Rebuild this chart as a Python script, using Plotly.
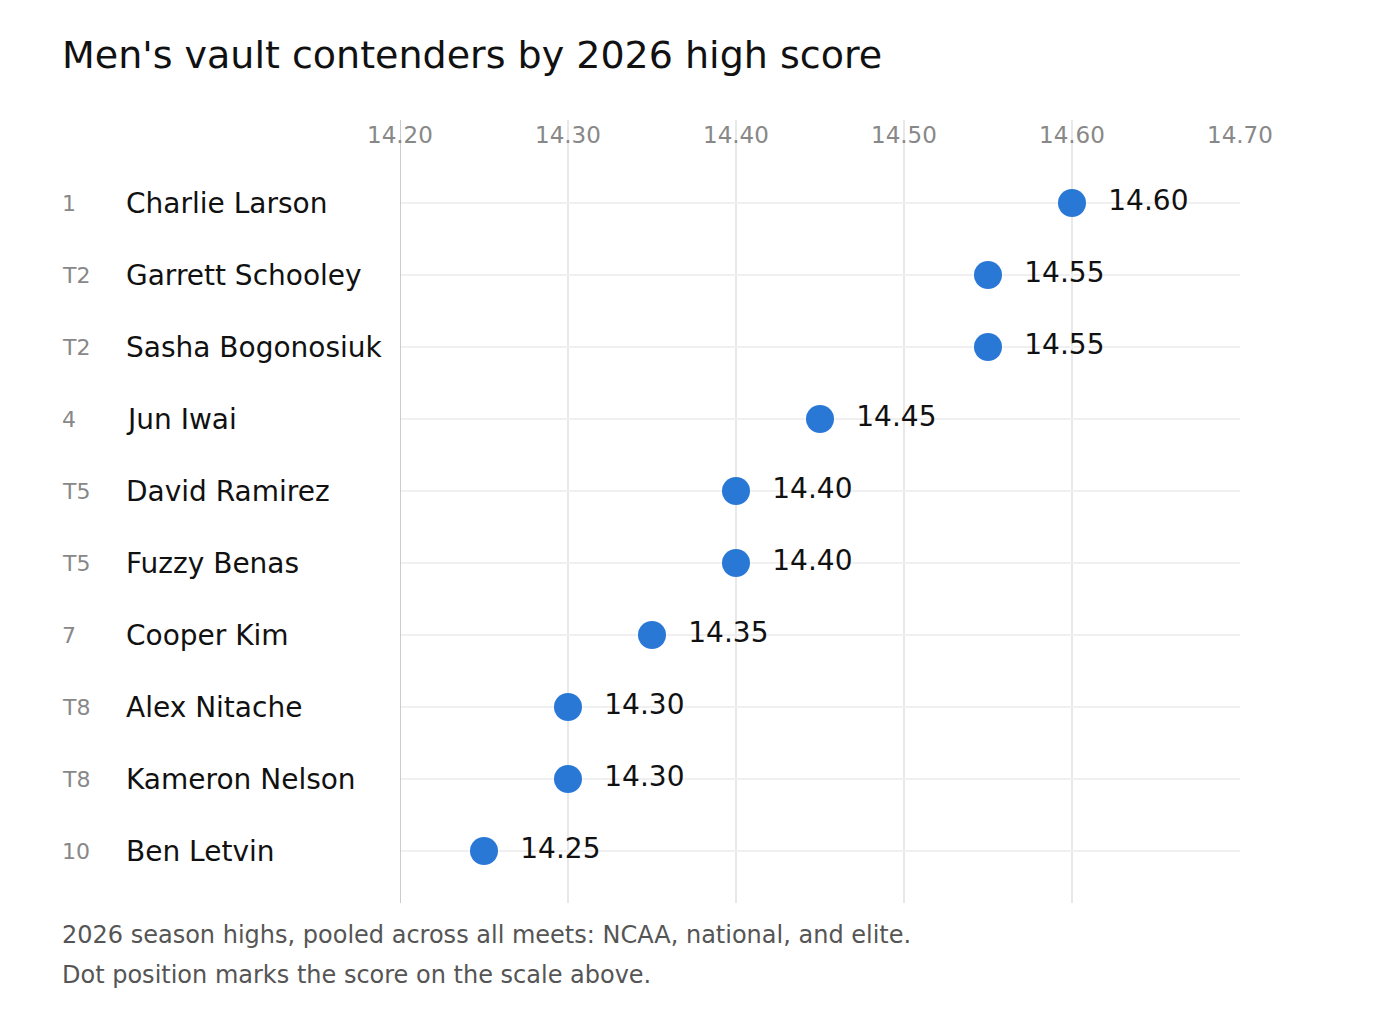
import plotly.graph_objects as go

ranks = ["1", "T2", "T2", "4", "T5", "T5", "7", "T8", "T8", "10"]
names = ["Charlie Larson", "Garrett Schooley", "Sasha Bogonosiuk", "Jun Iwai",
         "David Ramirez", "Fuzzy Benas", "Cooper Kim", "Alex Nitache",
         "Kameron Nelson", "Ben Letvin"]
scores = [14.60, 14.55, 14.55, 14.45, 14.40, 14.40, 14.35, 14.30, 14.30, 14.25]
ticks = [14.20, 14.30, 14.40, 14.50, 14.60, 14.70]

rows = list(range(len(names)))
font = "DejaVu Sans"

fig = go.Figure()
fig.add_trace(go.Scatter(
    x=scores, y=rows, mode="markers+text",
    marker=dict(size=28, color="#2a78d6"),
    text=[f"  {s:.2f}" for s in scores], textposition="middle right",
    textfont=dict(size=28, color="#111", family=font),
    cliponaxis=False, hoverinfo="skip"))

# page is drawn with an 8px offset, so shift everything back
L, R, T, B = 392, 168, 112, 125
W = 1400 - L - R
H = 1020 - T - B
ann = []
for t in ticks:
    ann.append(dict(x=t, y=-0.944, xref="x", yref="y", text=f"{t:.2f}", showarrow=False,
                    font=dict(size=23, color="#888", family=font)))
for i, (rk, nm) in enumerate(zip(ranks, names)):
    ann.append(dict(x=(52 - L) / W, y=i, xref="paper", yref="y", text=rk, xanchor="left",
                    showarrow=False, font=dict(size=22, color="#888", family=font)))
    ann.append(dict(x=(116 - L) / W, y=i, xref="paper", yref="y", text=nm, xanchor="left",
                    showarrow=False, font=dict(size=28, color="#111", family=font)))
ann.append(dict(x=(52 - L) / W, y=1 + (T - 47) / H, xref="paper", yref="paper",
                text="Men's vault contenders by 2026 high score", xanchor="left", yanchor="middle",
                showarrow=False, font=dict(size=38, color="#111", family=font)))
for txt, py in [("2026 season highs, pooled across all meets: NCAA, national, and elite.", 927),
                ("Dot position marks the score on the scale above.", 967)]:
    ann.append(dict(x=(52 - L) / W, y=-(py - (1020 - B)) / H, xref="paper",
                    yref="paper", text=txt, xanchor="left", yanchor="middle", showarrow=False,
                    font=dict(size=24, color="#555", family=font)))

shapes = [dict(type="line", xref="x", yref="paper", x0=14.20, x1=14.20, y0=0, y1=1,
               line=dict(color="#bbb", width=1.5))]

fig.update_layout(
    width=1400, height=1020, margin=dict(l=L, r=R, t=T, b=B),
    plot_bgcolor="white", paper_bgcolor="white", showlegend=False,
    xaxis=dict(range=[14.20, 14.70], tickvals=ticks, showticklabels=False,
               showgrid=True, gridcolor="#e8e8e8", gridwidth=1.5, zeroline=False),
    yaxis=dict(range=[9.722, -1.153], tickvals=rows, showticklabels=False,
               showgrid=True, gridcolor="#f0f0f0", gridwidth=1.5, zeroline=False),
    annotations=ann, shapes=shapes)

fig.write_html("out.html")
